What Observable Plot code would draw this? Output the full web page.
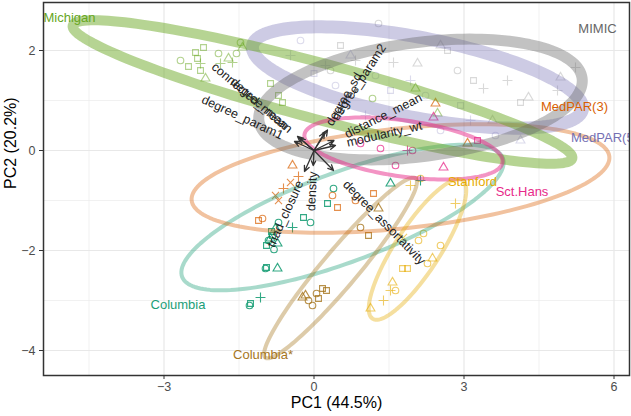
<!DOCTYPE html>
<html><head><meta charset="utf-8">
<script src="https://cdn.jsdelivr.net/npm/d3@7"></script>
<script src="https://cdn.jsdelivr.net/npm/@observablehq/plot@0.6"></script>
<style>body{margin:0;background:#fff}</style>
</head><body><div id="chart"></div>
<script>
// ---------- data ----------
const groups = ["Columbia","Columbia*","MedPAR(3)","MedPAR(5)","Michigan","MIMIC","Sct.Hans","Stanford"];
const groupColors = ["#1b9e77","#a6761d","#d95f02","#7570b3","#66a61e","#666666","#e7298a","#e6ab02"];

// points (PC1, PC2, shape) per group
const columbiaX = [-0.91,-0.83,-0.77,-0.71,-0.95,-0.87,-0.73,-0.97,-0.95,-0.73,-1.27,-1.29,-1.07,-0.43,-0.21,-0.07,0.39,0.27,1.53,2.13,-0.85,-0.80];
const columbiaY = [-1.80,-1.70,-1.56,-1.44,-1.90,-1.76,-1.86,-2.36,-2.34,-2.36,-3.06,-3.10,-2.94,-1.54,-1.34,-1.44,-0.76,-1.06,-0.66,-0.60,-1.62,-1.98];
const columbiaS = ["circle","square","triangle","circle","square","triangle","triangle","circle","square","triangle","square","circle","plus","plus","square","circle","circle","square","triangle","plus","square","circle"];

const columbiaStarX = [-0.17,-0.11,0.09,0.25,-0.03,-0.23,0.17,0.05,1.29,0.93,1.09];
const columbiaStarY = [-2.90,-3.00,-2.96,-2.80,-3.10,-2.94,-2.76,-2.86,-1.16,-1.54,-1.70];
const columbiaStarS = ["triangle","circle","square","square","circle","triangle","square","circle","triangle","circle","square"];

const medpar3X = [-0.43,2.43,3.07,-0.77,-0.61,-0.47,-0.31,-0.71,-1.11,-1.03,0.47,1.19,0.83,0.37];
const medpar3Y = [-0.30,0.94,0.14,-0.90,-0.76,-0.64,-0.52,-1.00,-1.40,-1.36,-1.14,-0.86,-1.00,-0.90];
const medpar3S = ["triangle","triangle","triangle","times","plus","times","plus","times","square","circle","square","square","circle","circle"];

const medpar5X = [0,0.23,0.73,1.23,1.53,1.93,2.23,2.93,3.13,3.63,4.13,2.53,0.63,1.03,0.43,-0.47,-0.27];
const medpar5Y = [1.54,1.70,1.90,1.50,1.20,1.40,1.10,0.90,0.60,0.30,0.20,0.40,1.0,0.70,1.30,1.9,2.2];
const medpar5S = ["square","plus","triangle","circle","square","plus","circle","square","plus","circle","triangle","circle","square","plus","circle","plus","circle"];

const michiganX = [-2.67,-1.91,-1.47,-1.55,-2.37,-2.51,-2.27,-2.21,-2.33,-2.17,-1.71,-1.43,-2.27,-1.87,-1.63,-0.71,-0.63,2.03,1.17,-0.87,2.47];
const michiganY = [1.80,1.94,2.16,1.94,1.96,1.68,1.60,2.06,1.84,1.44,1.84,2.06,1.74,1.74,1.76,1.10,0.96,1.24,1.04,1.34,0.74];
const michiganS = ["circle","circle","circle","circle","square","square","square","square","square","triangle","triangle","triangle","plus","plus","plus","square","square","triangle","circle","square","triangle"];

const mimicX = [1.29,2.67,2.07,1.59,2.87,3.19,3.39,4.13,4.29,4.87,4.93,5.23,3.57,3.87,2.53,0.53,0.83,0.33];
const mimicY = [2.54,2.0,1.74,1.76,1.60,1.40,1.24,0.96,1.06,1.20,1.46,1.66,0.60,1.40,2.1,2.1,1.8,1.6];
const mimicS = ["circle","square","triangle","plus","circle","square","plus","square","triangle","plus","triangle","plus","triangle","plus","triangle","square","plus","circle"];

const sctHansX = [0.93,1.33,1.97,1.87,2.59,3.27,2.39,1.63];
const sctHansY = [0.14,0.04,0.0,0.0,-0.34,0.20,0.66,-0.30];
const sctHansS = ["circle","circle","circle","plus","triangle","square","triangle","circle"];

const stanfordX = [2.83,2.19,2.09,1.79,2.37,1.77,1.87,2.27,1.57,1.39,1.53,1.13,1.63,2.53,1.93,2.13];
const stanfordY = [-1.06,-1.66,-1.80,-1.74,-2.16,-2.36,-2.36,-2.26,-2.64,-3.0,-2.80,-3.16,-2.8,-1.9,-0.70,-0.56];
const stanfordS = ["plus","circle","circle","times","triangle","square","square","circle","triangle","plus","plus","triangle","circle","circle","plus","circle"];

// normal-probability ellipses per group: centre, semi-axes, angle (deg)
const ellCX    = [0.57,0.53,1.73,2.07,0.17,2.13,1.79,2.07];
const ellCY    = [-1.34,-2.35,-0.56,1.46,1.17,1.02,0.04,-1.98];
const ellA     = [3.42,2.34,4.2,3.36,5.17,3.26,2.0,1.65];
const ellB     = [0.9,0.36,1.0,0.8,0.56,1.14,0.56,0.45];
const ellAngle = [20.3,50,6,-11,-14.9,7.5,-8,57];

// group label positions
const labelX = [-2.72,-1.02,5.21,5.81,-4.89,5.67,4.16,3.17];
const labelY = [-3.08,-4.08,0.88,0.25,2.66,2.44,-0.82,-0.62];

// variable loadings
const varNames = ["connected_mean","degree_mean","degree_param1","degree_param2","degree_sd","distance_mean","modularity_wt","density","triad_closure","degree_assortativity"];
const loadX = [-0.33,-0.29,-0.39,0.27,0.21,0.40,0.43,-0.015,-0.19,0.39];
const loadY = [0.28,0.25,0.18,0.41,0.36,0.20,0.10,-0.30,-0.42,-0.40];

const xTicks = [-3,0,3,6];
const yTicks = [-4,-2,0,2];
const xMinor = [-4.5,-1.5,1.5,4.5];
const yMinor = [-3,-1,1];
const xLabel = "PC1 (44.5%)";
const yLabel = "PC2 (20.2%)";

// ---------- styles ----------
const ellWidth   = {"Columbia":4,"Columbia*":4,"MedPAR(3)":4,"MedPAR(5)":13,"Michigan":10,"MIMIC":11,"Sct.Hans":4,"Stanford":4};
const ellOpacity = {"Columbia":0.38,"Columbia*":0.38,"MedPAR(3)":0.38,"MedPAR(5)":0.36,"Michigan":0.48,"MIMIC":0.4,"Sct.Hans":0.5,"Stanford":0.38};
const ptOpacity  = {"Columbia":0.9,"Columbia*":0.8,"MedPAR(3)":0.7,"MedPAR(5)":0.25,"Michigan":0.5,"MIMIC":0.25,"Sct.Hans":0.75,"Stanford":0.6};

// ---------- build tables ----------
const ptSets = [
  ["Columbia",columbiaX,columbiaY,columbiaS],
  ["Columbia*",columbiaStarX,columbiaStarY,columbiaStarS],
  ["MedPAR(3)",medpar3X,medpar3Y,medpar3S],
  ["MedPAR(5)",medpar5X,medpar5Y,medpar5S],
  ["Michigan",michiganX,michiganY,michiganS],
  ["MIMIC",mimicX,mimicY,mimicS],
  ["Sct.Hans",sctHansX,sctHansY,sctHansS],
  ["Stanford",stanfordX,stanfordY,stanfordS]
];
const points = [];
for (const [g,xs,ys,ss] of ptSets) xs.forEach((x,i)=>points.push({group:g,x,y:ys[i],shape:ss[i]}));

const ellipses = [];
groups.forEach((g,k)=>{
  const t = ellAngle[k]*Math.PI/180, n = 160;
  for (let i=0;i<=n;i++){
    const s = 2*Math.PI*i/n, u = ellA[k]*Math.cos(s), v = ellB[k]*Math.sin(s);
    ellipses.push({group:g, x: ellCX[k] + u*Math.cos(t) - v*Math.sin(t), y: ellCY[k] + u*Math.sin(t) + v*Math.cos(t)});
  }
});

const W = 631, H = 416, mL = 43, mR = 2, mT = 2, mB = 41;
const xDomain = [-5.41, 6.31], yDomain = [-4.5, 2.96];
const ppu = (W - mL - mR) / (xDomain[1]-xDomain[0]);
const fmt = d => d < 0 ? "\u2212" + Math.abs(d) : String(d);

const ctx = document.createElement("canvas").getContext("2d");
ctx.font = "12.5px 'Liberation Sans', Arial, sans-serif";
const arrows = varNames.map((v,i)=>({v, x: loadX[i], y: loadY[i]}));
const varLabels = arrows.map(d=>{
  const len = Math.hypot(d.x,d.y), w = ctx.measureText(d.v).width, gap = 0.15*w/ppu;
  return {v:d.v, x: d.x + d.x/len*gap, y: d.y + d.y/len*gap, rot: -Math.atan(d.y/d.x)*180/Math.PI, right: d.x > 0};
});
const groupLabels = groups.map((g,i)=>({group:g, x:labelX[i], y:labelY[i]}));

const marks = [
  Plot.gridX(xMinor, {stroke:"#ebebeb", strokeOpacity:1, strokeWidth:0.7}),
  Plot.gridY(yMinor, {stroke:"#ebebeb", strokeOpacity:1, strokeWidth:0.7}),
  Plot.gridX(xTicks, {stroke:"#e8e8e8", strokeOpacity:1, strokeWidth:1.2}),
  Plot.gridY(yTicks, {stroke:"#e8e8e8", strokeOpacity:1, strokeWidth:1.2}),
];
for (const s of ["circle","square","triangle","plus","times"]) {
  marks.push(Plot.dot(points.filter(d=>d.shape===s), {x:"x", y:"y", stroke:"group", symbol: s, r:3.3, fill:"none", strokeWidth:1.1, strokeOpacity: d=>ptOpacity[d.group], clip:true}));
}
for (const g of groups) {
  marks.push(Plot.line(ellipses.filter(d=>d.group===g), {x:"x", y:"y", stroke:"group", strokeWidth: ellWidth[g], strokeOpacity: ellOpacity[g], clip:true}));
}
marks.push(
  Plot.arrow(arrows, {x1:0, y1:0, x2:"x", y2:"y", stroke:"#333", strokeWidth:1.3, headLength:7, headAngle:50}),
  Plot.text(varLabels.filter(d=>d.right), {x:"x", y:"y", text:"v", rotate:"rot", textAnchor:"start", fill:"#222", fontSize:12.5}),
  Plot.text(varLabels.filter(d=>!d.right), {x:"x", y:"y", text:"v", rotate:"rot", textAnchor:"end", fill:"#222", fontSize:12.5}),
  Plot.text(groupLabels, {x:"x", y:"y", text:"group", fill:"group", fontSize:13, clip:true}),
  Plot.frame({stroke:"#333", strokeWidth:1.5}),
  Plot.axisX(xTicks, {tickSize:4, tickPadding:3, stroke:"#333", fill:"#4d4d4d", fontSize:12.5, tickFormat: fmt, label:null}),
  Plot.axisY(yTicks, {tickSize:4, tickPadding:4, stroke:"#333", fill:"#4d4d4d", fontSize:12.5, tickFormat: fmt, label:null}),
  Plot.text([xLabel], {frameAnchor:"bottom", dy:32, text:d=>d, fill:"#000", fontSize:16}),
  Plot.text([yLabel], {frameAnchor:"left", dx:-33, rotate:-90, text:d=>d, fill:"#000", fontSize:16})
);

const chart = Plot.plot({
  width: W, height: H,
  marginLeft: mL, marginRight: mR, marginTop: mT, marginBottom: mB,
  x: {domain: xDomain, label: null},
  y: {domain: yDomain, label: null},
  color: {domain: groups, range: groupColors},
  style: {fontFamily: "'Liberation Sans', Arial, sans-serif", background: "#fff"},
  marks
});
document.getElementById("chart").appendChild(chart);
</script></body></html>
